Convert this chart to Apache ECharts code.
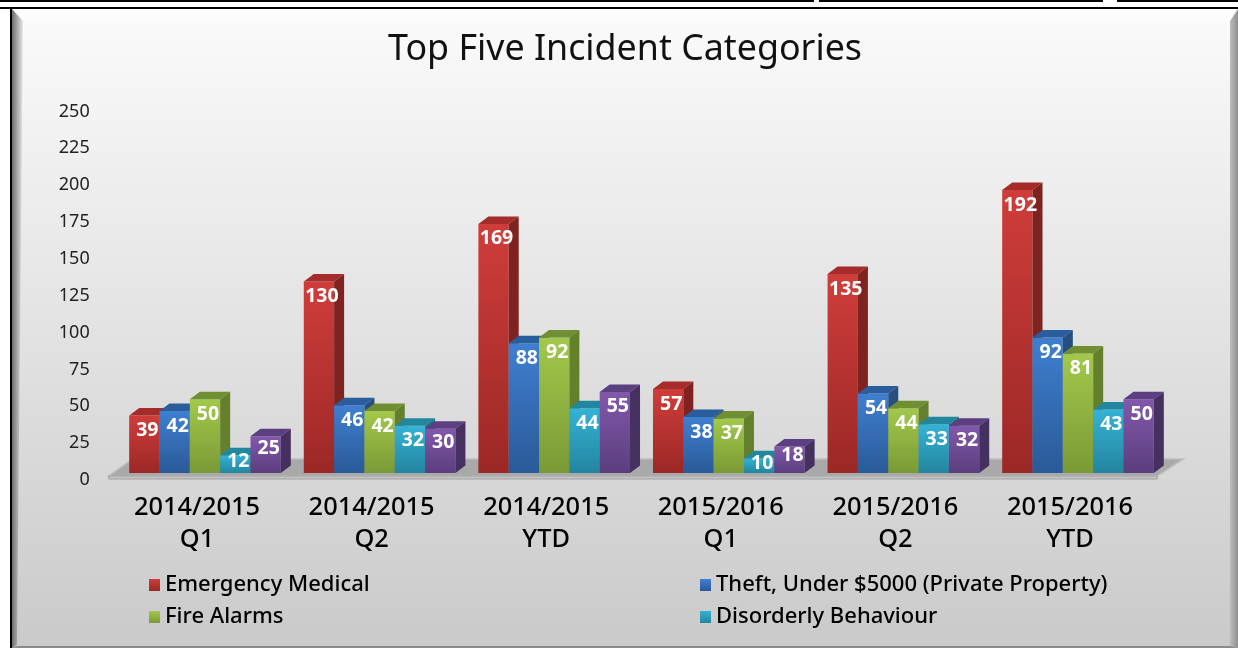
<!DOCTYPE html>
<html>
<head>
<meta charset="utf-8">
<style>html,body{margin:0;padding:0;background:#fff}#c{width:1238px;height:648px}</style>
<script src="https://cdn.jsdelivr.net/npm/echarts@6/dist/echarts.min.js"></script>
</head>
<body>
<div id="c"></div>
<script>
const categories = ['2014/2015\nQ1','2014/2015\nQ2','2014/2015\nYTD','2015/2016\nQ1','2015/2016\nQ2','2015/2016\nYTD'];
const emergencyMedical = [39,130,169,57,135,192];
const theft = [42,46,88,38,54,92];
const fireAlarms = [50,42,92,37,44,81];
const disorderly = [12,32,44,10,33,43];
const fifthCategory = [25,30,55,18,32,50];
const seriesNames = ['Emergency Medical','Theft, Under $5000 (Private Property)','Fire Alarms','Disorderly Behaviour','Other'];
const seriesValues = [emergencyMedical,theft,fireAlarms,disorderly,fifthCategory];
const palette = [
  {hi:'#cf3d3a',lo:'#9b2826',side:'#7e2320',top:'#a52c2a'},
  {hi:'#3f7fd0',lo:'#2a5a98',side:'#264f80',top:'#2a5d9c'},
  {hi:'#a2c84b',lo:'#7a9a35',side:'#64802c',top:'#6f8f32'},
  {hi:'#35b2d5',lo:'#23859f',side:'#1d6f85',top:'#23869f'},
  {hi:'#8258ab',lo:'#5b3e7e',side:'#463060',top:'#5c3f80'}
];
const grad = (a,b,x2,y2) => ({type:'linear',x:0,y:0,x2:x2||0,y2:y2===undefined?1:y2,colorStops:[{offset:0,color:a},{offset:1,color:b}]});
const FONT = 'Noto Sans';
const DX = 10, DY = 7.5;

function barRenderer(si){
  const p = palette[si];
  return function(params, api){
    const band = api.size([1,0])[0];
    const w = band*0.1737;
    const base = api.coord([api.value(0),0]);
    const topP = api.coord([api.value(0),api.value(1)]);
    const x = base[0] + (si-2.5)*w;
    const y = topP[1], b = base[1], h = b-y;
    return {type:'group',children:[
      {type:'rect',shape:{x:x,y:y,width:w,height:h},style:{fill:grad(p.hi,p.lo)}},
      {type:'polygon',shape:{points:[[x,y],[x+DX,y-DY],[x+w+DX,y-DY],[x+w,y]]},style:{fill:p.top}},
      {type:'polygon',shape:{points:[[x+w,y],[x+w+DX,y-DY],[x+w+DX,b-DY],[x+w,b]]},style:{fill:p.side}},
      {type:'text',style:{x:x+w/2+3,y:y+Math.min(15,h*0.32),text:String(api.value(1)),fill:'#fff',font:'bold 19.5px "'+FONT+'"',align:'center',verticalAlign:'middle'}}
    ]};
  };
}
function floorRenderer(params){
  const c = params.coordSys;
  const l = c.x-9, r = c.x+c.width-8, b = c.y+c.height;
  return {type:'group',children:[
    {type:'polygon',shape:{points:[[l,b+3],[l+24,b-14],[r+26,b-14],[r,b+3]]},style:{fill:'#a9a9a9',stroke:'#bdbdbd',lineWidth:1.5}},
    {type:'polygon',shape:{points:[[l,b+3],[r,b+3],[r,b+6],[l,b+6]]},style:{fill:'#c4c4c4',stroke:'#a0a0a0',lineWidth:1}}
  ]};
}
const series = [{type:'custom',silent:true,renderItem:floorRenderer,data:[[0,0]],encode:{x:0,y:1},z:1}];
seriesNames.forEach((n,si)=>{
  series.push({type:'custom',name:n,silent:true,renderItem:barRenderer(si),z:2+si,
    itemStyle:{color:grad(palette[si].hi,palette[si].lo)},
    encode:{x:0,y:1},data:seriesValues[si].map((v,i)=>[i,v])});
});
const legendText = {fontFamily:FONT,fontSize:22,fontWeight:500,color:'#000'};
const R=1238,B=648;
const option = {
  animation:false,
  backgroundColor:'#ffffff',
  title:{text:'Top Five Incident Categories',left:620,top:27,textAlign:'center',textStyle:{fontFamily:FONT,fontWeight:'normal',fontSize:35.8,color:'#111'}},
  grid:{left:117.7,width:1047.6,top:104.5,height:368.5,containLabel:false},
  xAxis:{type:'category',data:categories,axisLine:{show:false},axisTick:{show:false},
    axisLabel:{interval:0,margin:19,fontFamily:FONT,fontSize:25.4,fontWeight:500,lineHeight:32,color:'#000',padding:[0,16,0,0]}},
  yAxis:{type:'value',min:0,max:250,interval:25,axisLine:{show:false},axisTick:{show:false},splitLine:{show:false},
    axisLabel:{margin:28,fontFamily:FONT,fontSize:18,color:'#222',verticalAlign:'top',lineHeight:14}},
  legend:[
    {data:[seriesNames[0],seriesNames[2]],orient:'vertical',left:144,top:569,itemWidth:11,itemHeight:12,itemGap:10,icon:'rect',textStyle:legendText,selectedMode:false},
    {data:[seriesNames[1],seriesNames[3]],orient:'vertical',left:695,top:569,itemWidth:11,itemHeight:12,itemGap:10,icon:'rect',textStyle:legendText,selectedMode:false}
  ],
  graphic:{elements:[
    {type:'rect',z:-20,shape:{x:0,y:0,width:814,height:2},style:{fill:'#000'}},
    {type:'rect',z:-20,shape:{x:819,y:0,width:284,height:2},style:{fill:'#000'}},
    {type:'rect',z:-20,shape:{x:1117,y:0,width:121,height:2},style:{fill:'#000'}},
    {type:'rect',z:-20,shape:{x:0,y:7,width:1238,height:2},style:{fill:'#000'}},
    {type:'rect',z:-20,shape:{x:10,y:8,width:2,height:640},style:{fill:'#000'}},
    {type:'rect',z:-19,shape:{x:12,y:9,width:R-12,height:B-9},style:{fill:grad('#fbfbfb','#cacaca')}},
    {type:'polygon',z:-18,shape:{points:[[12,9],[R,9],[R-8,21],[23,21]]},style:{fill:'#fdfdfd'}},
    {type:'polygon',z:-18,shape:{points:[[12,9],[23,21],[17,B-3],[12,B]]},style:{fill:grad('#6e6e6e','#e8e8e8',1,0)}},
    {type:'polygon',z:-18,shape:{points:[[R-8,21],[R,9],[R,B],[R-8,B-2]]},style:{fill:grad('#bdbdbd','#8f8f8f',1,0)}},
    {type:'polygon',z:-18,shape:{points:[[17,B-2],[R-8,B-2],[R,B],[12,B]]},style:{fill:'#8a8a8a'}}
  ]},
  series:series
};
const chart = echarts.init(document.getElementById('c'),null,{renderer:'canvas'});
chart.setOption(option);
</script>
</body>
</html>
